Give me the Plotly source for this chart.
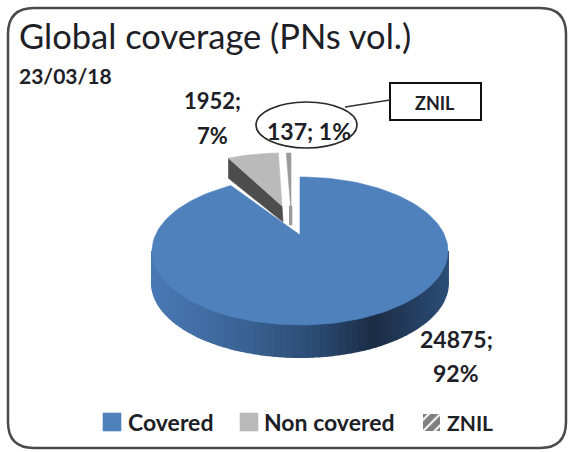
import numpy as np
import plotly.graph_objects as go

categories = ["Covered", "Non covered", "ZNIL"]
values = [24875, 1952, 137]
percent_labels = ["92%", "7%", "1%"]
title_text = "Global coverage (PNs vol.)"
date_text = "23/03/18"

W, H = 570, 452
CX, CY, RX, RY = 300, 251, 148, 74      # top-face ellipse
APEX_DY = -16                           # perspective shift of the pie apex
DEPTH = 32
FONT = "Lato"
INK = "#1d2026"
BLUE, GREY, DARKGREY = "#4f81bd", "#bababa", "#4d4d4d"

total = sum(values)
fractions = np.cumsum([0] + values) / total
angles = fractions * 2 * np.pi

def rim(t, cx=CX, cy=CY, rx=RX, ry=RY):
    return cx + rx * np.sin(t), cy - ry * np.cos(t)

def sector(t0, t1, ax, ay, cx=CX, cy=CY, rx=RX, ry=RY):
    t = np.linspace(t0, t1, 160)
    x, y = rim(t, cx, cy, rx, ry)
    return [ax, *x, ax], [ay, *y, ay]

fig = go.Figure()

def poly(x, y, color, name=None, width=0.6):
    fig.add_trace(go.Scatter(x=x, y=y, mode="lines", fill="toself", fillcolor=color,
                             line=dict(color=color, width=width),
                             hoverinfo="skip" if not name else "text",
                             text=name, showlegend=False))

# side of the pie, shaded segment by segment
stops_x = [0.0, 0.25, 0.55, 0.75, 1.0]
stops_c = [(74, 122, 181), (62, 104, 156), (44, 76, 116), (28, 45, 69), (44, 78, 120)]
n = 70
ts = np.linspace(np.pi / 2, 3 * np.pi / 2, n + 1)
for a, b in zip(ts[:-1], ts[1:]):
    t = np.linspace(a, b, 4)
    x, y = rim(t)
    xs = list(x) + list(x[::-1])
    ys = list(y) + list((y + DEPTH)[::-1])
    u = (x.mean() - (CX - RX)) / (2 * RX)
    col = [int(np.interp(u, stops_x, [c[i] for c in stops_c])) for i in range(3)]
    poly(xs, ys, f"rgb({col[0]},{col[1]},{col[2]})", width=2)

# exploded non covered slice: cut face then top face (smaller ellipse, as drawn)
g = dict(cx=282, cy=197, rx=115, ry=44)
gax, gay = 282, 206
lx, ly = rim(angles[1], **g)
poly([lx, gax, gax + 1, lx], [ly, gay, gay + 16, ly + 20], DARKGREY)
x, y = sector(angles[1], angles[2], gax, gay, **g)
poly(x, y, GREY, name=f"{categories[1]}: {values[1]}")

# covered slice
x, y = sector(angles[0], angles[1], CX, CY + APEX_DY)
poly(x, y, BLUE, name=f"{categories[0]}: {values[0]}")

# exploded ZNIL slice
zcx, zcy = CX - 9, CY - 24
zax, zay = zcx, zcy + APEX_DY
x, y = sector(angles[2], angles[3], zax, zay, cx=zcx, cy=zcy)
poly(x, y, "#9a9a9a", name=f"{categories[2]}: {values[2]}")
poly([zax - 2, zax + 1, zax + 1, zax - 2], [zay - 5, zay - 5, zay + 14, zay + 14], "#9a9a9a")

# legend swatches
def square(x0, y0, s):
    return [x0, x0 + s, x0 + s, x0, x0], [y0, y0, y0 + s, y0 + s, y0]

sx, sy = square(103, 413, 18)
poly(sx, sy, BLUE)
sx, sy = square(240, 413, 18)
poly(sx, sy, GREY)
sx, sy = square(423, 414, 17)
fig.add_trace(go.Scatter(x=sx, y=sy, mode="lines", fill="toself", fillcolor="white",
                         line=dict(width=0, color="white"), hoverinfo="skip", showlegend=False,
                         fillpattern=dict(shape="/", fgcolor="#000000", bgcolor="white", size=8, solidity=0.75)))

def text(x, y, s, size, anchor="center", weight="normal"):
    fig.add_annotation(x=x, y=y, text=s, showarrow=False, xanchor=anchor, yanchor="middle",
                       font=dict(family=FONT, size=size, color=INK, weight=weight))

text(17, 35, title_text, 34.5, "left")
text(17, 75, date_text, 21, "left", "bold")
text(212, 100, f"{values[1]};", 22, weight="bold")
text(212, 135, percent_labels[1], 22, weight="bold")
text(309, 131, f"{values[2]}; {percent_labels[2]}", 23, weight="bold")
text(456, 339, f"{values[0]};", 23, weight="bold")
text(456, 373, percent_labels[0], 23, weight="bold")
text(435, 103, categories[2], 18, weight="bold")
text(126, 422, categories[0], 23, "left", "bold")
text(262, 422, categories[1], 23, "left", "bold")
text(445, 422, categories[2], 21, "left", "bold")

r = 26
L, T, R, B = 8, 8, 566, 448
frame = (f"M{L+r},{T} L{R-r},{T} Q{R},{T} {R},{T+r} L{R},{B-r} Q{R},{B} {R-r},{B} "
         f"L{L+r},{B} Q{L},{B} {L},{B-r} L{L},{T+r} Q{L},{T} {L+r},{T} Z")
fig.add_shape(type="path", path=frame, xref="x", yref="y", line=dict(color="#4a4a4a", width=2.5), layer="below")
fig.add_shape(type="circle", xref="x", yref="y", x0=256, x1=357, y0=102, y1=148, line=dict(color="#2a2a2a", width=1.6))
fig.add_shape(type="rect", xref="x", yref="y", x0=390, x1=481, y0=83, y1=120, line=dict(color="#111111", width=2), layer="below")
fig.add_shape(type="line", xref="x", yref="y", x0=345, y0=107, x1=390, y1=100, line=dict(color="#333333", width=1.6))

fig.update_xaxes(range=[0, W], visible=False, fixedrange=True)
fig.update_yaxes(range=[H, 0], visible=False, fixedrange=True)
fig.update_layout(width=W, height=H, margin=dict(l=0, r=0, t=0, b=0),
                  paper_bgcolor="white", plot_bgcolor="white", showlegend=False)
fig.write_html("out.html", config={"displayModeBar": False},
               post_script="document.body.style.margin='0';document.body.style.overflow='hidden';")
